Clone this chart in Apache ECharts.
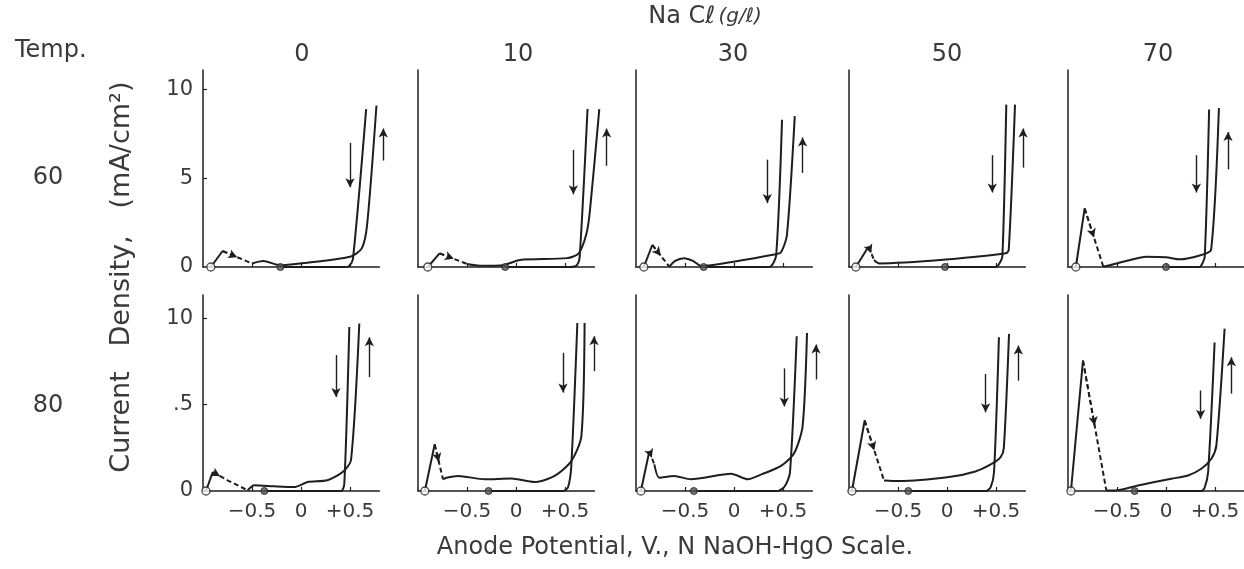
<!DOCTYPE html>
<html>
<head>
<meta charset="utf-8">
<title>Anodic polarization curves</title>
<script src="https://cdn.jsdelivr.net/npm/echarts@6/dist/echarts.min.js"></script>
</head>
<body style="padding:0;margin:0;background:#fff;">
<div id="main" style="width:1244px;height:569px;"></div>
<script type="text/javascript">
// columns: NaCl (g/l), rows: temperature
var naclLevels = ['0', '10', '30', '50', '70'];
var temps = ['60', '80'];

// panels are listed row by row: 60 x (0,10,30,50,70), then 80 x (0,10,30,50,70)
// potential (V) of the open circle where the anodic sweep starts
var startV = [-0.92, -0.90, -0.92, -0.93, -0.92, -0.97, -0.93, -0.95, -0.97, -0.97];

// dashed drop after the active peak, [V, mA/cm2]
var drops = [
  [[-0.80, 0.9], [-0.50, 0.2]],
  [[-0.78, 0.77], [-0.49, 0.15]],
  [[-0.834, 1.24], [-0.66, 0.02]],
  [[-0.80, 1.15], [-0.745, 0.4]],
  [[-0.83, 3.3], [-0.64, 0.02]],
  [[-0.90, 1.1], [-0.75, 0.62], [-0.544, 0.04]],
  [[-0.83, 2.7], [-0.745, 0.68]],
  [[-0.864, 2.3], [-0.813, 1.54]],
  [[-0.84, 4.08], [-0.643, 0.61]],
  [[-0.847, 7.55], [-0.609, 0.03]]
];

// rest of the forward sweep, up to the top of the curve
var forward = [
  [[-0.385, 0.34], [-0.21, 0.1], [-0.01, 0.2], [0.5, 0.58], [0.62, 1.05], [0.675, 2.4], [0.77, 9.1]],
  [[-0.37, 0.07], [-0.13, 0.1], [0.04, 0.4], [0.52, 0.5], [0.64, 0.77], [0.72, 1.9], [0.755, 3.2], [0.85, 8.9]],
  [[-0.6, 0.35], [-0.51, 0.5], [-0.42, 0.35], [-0.33, 0.05], [-0.02, 0.28], [0.41, 0.7], [0.48, 0.83], [0.54, 1.8], [0.62, 8.5]],
  [[-0.69, 0.2], [-0.01, 0.42], [0.6, 0.77], [0.63, 0.96], [0.694, 9.15]],
  [[-0.575, 0.1], [-0.4, 0.35], [-0.2, 0.58], [0.0, 0.55], [0.14, 0.43], [0.36, 0.68], [0.46, 0.96], [0.54, 8.96]],
  [[-0.476, 0.33], [-0.27, 0.27], [-0.068, 0.23], [0.068, 0.52], [0.27, 0.62], [0.425, 1.1], [0.51, 1.78], [0.595, 9.7]],
  [[-0.71, 0.77], [-0.59, 0.87], [-0.32, 0.68], [-0.048, 0.72], [0.19, 0.52], [0.394, 0.87], [0.564, 1.73], [0.667, 3.18], [0.70, 9.73]],
  [[-0.762, 0.77], [-0.61, 0.87], [-0.44, 0.68], [-0.03, 1.0], [0.14, 0.68], [0.28, 0.96], [0.48, 1.45], [0.615, 2.2], [0.70, 3.76], [0.745, 9.15]],
  [[-0.49, 0.58], [0.02, 0.81], [0.29, 1.13], [0.46, 1.58], [0.547, 1.96], [0.58, 2.5], [0.633, 9.1]],
  [[-0.524, 0.03], [-0.286, 0.32], [0.054, 0.71], [0.224, 0.9], [0.36, 1.29], [0.463, 1.87], [0.514, 2.64], [0.598, 9.4]]
];

// reverse sweep from the top down to zero current
var reverse = [
  [[0.665, 8.9], [0.53, 0.45], [0.49, 0.05], [0.45, 0]],
  [[0.73, 8.9], [0.65, 0.6], [0.62, 0.1], [0.55, 0]],
  [[0.49, 8.3], [0.43, 0.65], [0.37, 0.02], [0.3, 0]],
  [[0.605, 9.15], [0.565, 0.6], [0.53, 0.15], [0.5, 0]],
  [[0.44, 8.87], [0.395, 0.58], [0.36, 0.08], [0.34, 0]],
  [[0.493, 9.5], [0.442, 0.43], [0.408, 0]],
  [[0.626, 9.73], [0.564, 1.45], [0.53, 0.2], [0.48, 0]],
  [[0.64, 8.96], [0.571, 1.06], [0.52, 0.29], [0.446, 0]],
  [[0.53, 8.9], [0.48, 1.1], [0.446, 0.23], [0.395, 0]],
  [[0.496, 8.6], [0.43, 1.1], [0.394, 0.19], [0.36, 0]]
];

// filled circle where the reverse sweep ends, V
var endV = [-0.21, -0.11, -0.31, -0.02, 0.0, -0.374, -0.28, -0.41, -0.395, -0.32];

// direction arrows [V, from, to]
var downArrows = [
  [0.50, 7.0, 4.5], [0.585, 6.6, 4.1], [0.34, 6.05, 3.6], [0.462, 6.3, 4.2], [0.31, 6.3, 4.2],
  [0.357, 7.87, 5.45], [0.48, 8.0, 5.7], [0.513, 7.1, 4.9], [0.394, 6.78, 4.56], [0.353, 5.82, 4.18]
];
var upArrows = [
  [0.84, 6.0, 7.8], [0.925, 5.7, 7.8], [0.70, 5.3, 7.3], [0.776, 5.6, 7.8], [0.633, 5.5, 7.6],
  [0.697, 6.6, 8.9], [0.796, 6.94, 8.96], [0.837, 6.46, 8.48], [0.728, 6.39, 8.42], [0.667, 5.64, 7.74]
];

var xTicks = [-0.5, 0, 0.5];
var yTicks = [0, 5, 10];

var colLeft = [203, 418, 636, 849, 1068];
var rowTop = [70, 295];
var rowHeight = [197, 196];
var rowMax = [11.1, 11.35];
var xMin = -1, xAxisMax = 0.8, xDataMax = 0.95;
var pxPerV = 98;
var ink = '#1e1e1e';
var textColor = '#3a3a3a';
var font = '"DejaVu Sans", sans-serif';

var myChart = echarts.init(document.getElementById('main'));

var grids = [], xAxes = [], yAxes = [], series = [];
for (var r = 0; r < temps.length; r++) {
  for (var c = 0; c < naclLevels.length; c++) {
    var k = r * naclLevels.length + c;
    var ga = 2 * k, gd = 2 * k + 1;
    // frame grid: draws the axes as printed
    grids.push({ left: colLeft[c], top: rowTop[r], width: (xAxisMax - xMin) * pxPerV, height: rowHeight[r], containLabel: false, outerBoundsMode: 'none' });
    // data grid: same scale, a bit wider so the arrows past the axis end show
    grids.push({ left: colLeft[c], top: rowTop[r], width: (xDataMax - xMin) * pxPerV, height: rowHeight[r], containLabel: false, outerBoundsMode: 'none' });

    xAxes.push({
      gridIndex: ga, type: 'value', min: xMin, max: xAxisMax,
      axisLine: { show: true, onZero: false, lineStyle: { color: ink, width: 1.5 } },
      axisTick: { show: true, inside: true, length: 4, customValues: xTicks, lineStyle: { color: ink, width: 1.2 } },
      axisLabel: {
        show: r === 1, customValues: xTicks, margin: 11,
        color: textColor, fontSize: 20, fontFamily: font,
        formatter: function (v) { return v > 0 ? '+' + v : (v < 0 ? '\u2212' + (-v) : '0'); }
      },
      splitLine: { show: false }
    });
    yAxes.push({
      gridIndex: ga, type: 'value', min: 0, max: rowMax[r],
      axisLine: { show: true, onZero: false, lineStyle: { color: ink, width: 1.5 } },
      axisTick: { show: c === 0, inside: true, length: 4, customValues: [5, 10], lineStyle: { color: ink, width: 1.2 } },
      axisLabel: {
        show: c === 0, customValues: yTicks, margin: 10,
        color: textColor, fontSize: 21, fontFamily: font,
        formatter: (r === 1) ? function (v) { return v === 5 ? '.5' : String(v); } : function (v) { return String(v); }
      },
      splitLine: { show: false }
    });
    xAxes.push({ gridIndex: gd, type: 'value', min: xMin, max: xDataMax, show: false });
    yAxes.push({ gridIndex: gd, type: 'value', min: 0, max: rowMax[r], show: false });

    var lineBase = {
      type: 'line', xAxisIndex: gd, yAxisIndex: gd, showSymbol: false, symbol: 'none',
      silent: true, smooth: 0.25,
      lineStyle: { color: ink, width: 2 }
    };
    var peak = drops[k][0];
    var dropEnd = drops[k][drops[k].length - 1];
    var mid = [(drops[k][0][0] + drops[k][1][0]) / 2, (drops[k][0][1] + drops[k][1][1]) / 2];

    series.push(Object.assign({}, lineBase, { smooth: false, data: [[startV[k], 0], peak] }));
    series.push(Object.assign({}, lineBase, { smooth: false, data: drops[k], lineStyle: { color: ink, width: 2, type: [5, 3] } }));
    series.push(Object.assign({}, lineBase, { data: [dropEnd].concat(forward[k]) }));
    series.push(Object.assign({}, lineBase, {
      data: reverse[k].concat([[endV[k], 0]]),
      markLine: {
        silent: true, symbol: ['none', 'arrow'], symbolSize: [7, 9], animation: false,
        label: { show: false },
        lineStyle: { color: ink, width: 1.4, type: 'solid' },
        data: [
          [{ coord: [downArrows[k][0], downArrows[k][1]] }, { coord: [downArrows[k][0], downArrows[k][2]] }],
          [{ coord: [upArrows[k][0], upArrows[k][1]] }, { coord: [upArrows[k][0], upArrows[k][2]] }],
          [{ coord: peak, lineStyle: { type: [5, 3], width: 1.8 } }, { coord: mid }]
        ]
      }
    }));
    series.push({
      type: 'scatter', xAxisIndex: gd, yAxisIndex: gd, silent: true, clip: false, z: 5,
      data: [[startV[k], 0]], symbol: 'circle', symbolSize: 8,
      itemStyle: { color: '#fff', borderColor: ink, borderWidth: 1.3 }
    });
    series.push({
      type: 'scatter', xAxisIndex: gd, yAxisIndex: gd, silent: true, clip: false, z: 5,
      data: [[endV[k], 0]], symbol: 'circle', symbolSize: 7,
      itemStyle: { color: '#555', borderColor: ink, borderWidth: 1 }
    });
  }
}

var headerX = [302, 518, 733, 947, 1158];
function vText(str, y) {
  return { type: 'text', x: 122, y: y, rotation: Math.PI / 2, style: { text: str, font: '27px ' + font, fill: textColor, align: 'center', verticalAlign: 'middle' } };
}
var graphics = [
  { type: 'text', left: 15, top: 39, style: { text: 'Temp.', font: '24px ' + font, fill: textColor } },
  {
    type: 'text', x: 705, y: 17,
    style: {
      text: '{a|Na C\u2113} {b|(g/\u2113)}', align: 'center', verticalAlign: 'middle',
      rich: {
        a: { font: '24px ' + font, fill: textColor },
        b: { font: 'italic 20px ' + font, fill: textColor }
      }
    }
  },
  // y-axis title, word by word as spaced in the print
  vText('Current', 422),
  vText('Density,', 291),
  vText('(mA/cm\u00b2)', 145),
  {
    type: 'text', x: 675, y: 548,
    style: { text: 'Anode Potential, V., N NaOH-HgO Scale.', font: '24px ' + font, fill: textColor, align: 'center', verticalAlign: 'middle' }
  }
];
for (var i = 0; i < naclLevels.length; i++) {
  graphics.push({ type: 'text', x: headerX[i], y: 55, style: { text: naclLevels[i], font: '24px ' + font, fill: textColor, align: 'center', verticalAlign: 'middle' } });
}
var rowLabelY = [178, 406];
for (var j = 0; j < temps.length; j++) {
  graphics.push({ type: 'text', x: 48, y: rowLabelY[j], style: { text: temps[j], font: '24px ' + font, fill: textColor, align: 'center', verticalAlign: 'middle' } });
}

myChart.setOption({
  backgroundColor: '#fff',
  animation: false,
  grid: grids,
  xAxis: xAxes,
  yAxis: yAxes,
  series: series,
  graphic: graphics
});
</script>
</body>
</html>
